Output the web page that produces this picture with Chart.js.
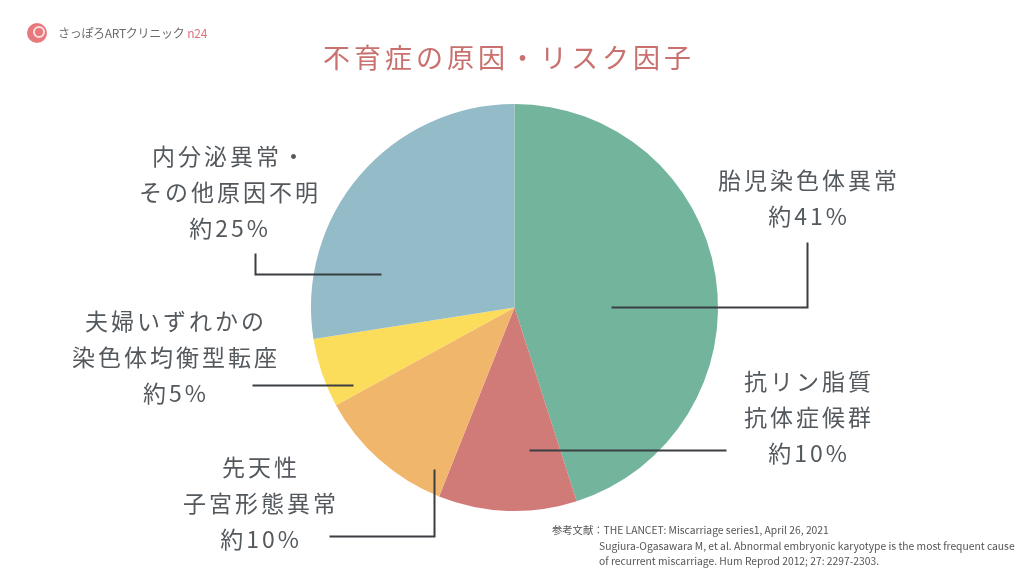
<!DOCTYPE html>
<html>
<head>
<meta charset="utf-8">
<script src="https://cdn.jsdelivr.net/npm/chart.js@4"></script>
<style>
  html, body { margin: 0; padding: 0; background: #fff; }
  #wrap { width: 1024px; height: 576px; position: relative; }
</style>
</head>
<body>
<div id="wrap"><canvas id="myChart" width="1024" height="576"></canvas></div>
<script>
// data
var labels = [
    ["胎児染色体異常", "約41%"],
    ["抗リン脂質", "抗体症候群", "約10%"],
    ["先天性", "子宮形態異常", "約10%"],
    ["夫婦いずれかの", "染色体均衡型転座", "約5%"],
    ["内分泌異常・", "その他原因不明", "約25%"]
];
var values = [41, 10, 10, 5, 25];
var colors = ["#73b49c", "#d17b79", "#f0b66b", "#fcdc5b", "#93bbc8"];

var titleText = "不育症の原因・リスク因子";
var refLines = [
    "参考文献：THE LANCET: Miscarriage series1, April 26, 2021",
    "Sugiura-Ogasawara M, et al. Abnormal embryonic karyotype is the most frequent cause",
    "of recurrent miscarriage. Hum Reprod 2012; 27: 2297-2303."
];

// label layout, offsets from pie center (px)
// text: center x / first line y ; path: leader polyline
var labelLayout = [
    { tx: 293, ty: -127, path: [[97, 0], [293, 0], [293, -65]] },
    { tx: 293, ty: 74, path: [[15, 143], [212, 143]] },
    { tx: -255, ty: 160, path: [[-185, 229], [-80, 229], [-80, 162]] },
    { tx: -340, ty: 14, path: [[-262, 78], [-161, 78]] },
    { tx: -286, ty: -151, path: [[-259, -54], [-259, -33], [-133, -33]] }
];

var fontJP = '"Noto Sans CJK JP", "Noto Sans", sans-serif';

const overlay = {
    id: "overlay",
    afterDraw(chart) {
        const ctx = chart.ctx;
        const arc = chart.getDatasetMeta(0).data[0];
        const cx = arc.x, cy = arc.y;
        ctx.save();

        // leader lines
        ctx.strokeStyle = "#3b3f43";
        ctx.lineWidth = 2;
        labelLayout.forEach((l) => {
            ctx.beginPath();
            l.path.forEach((p, i) => {
                if (i == 0) ctx.moveTo(cx + p[0], cy + p[1]);
                else ctx.lineTo(cx + p[0], cy + p[1]);
            });
            ctx.stroke();
        });

        // labels
        ctx.fillStyle = "#54595e";
        ctx.textAlign = "center";
        ctx.textBaseline = "middle";
        ctx.font = "400 23px " + fontJP;
        ctx.letterSpacing = "3px";
        labelLayout.forEach((l, i) => {
            labels[i].forEach((t, j) => {
                ctx.fillText(t, cx + l.tx + 1.5, cy + l.ty + j * 36);
            });
        });

        // title
        ctx.fillStyle = "#c9716f";
        ctx.font = "400 27px " + fontJP;
        ctx.letterSpacing = "4px";
        ctx.fillText(titleText, 509, 58);

        // logo
        ctx.letterSpacing = "0px";
        ctx.beginPath();
        ctx.arc(37, 33, 10, 0, Math.PI * 2);
        ctx.fillStyle = "#e8787c";
        ctx.fill();
        ctx.beginPath();
        ctx.arc(39, 32, 5, 0, Math.PI * 2);
        ctx.strokeStyle = "#fbe0e0";
        ctx.lineWidth = 2;
        ctx.stroke();
        ctx.textAlign = "left";
        ctx.fillStyle = "#6a6a6a";
        ctx.font = "400 12px " + fontJP;
        ctx.letterSpacing = "-0.3px";
        ctx.fillText("さっぽろARTクリニック", 58, 33);
        const w = ctx.measureText("さっぽろARTクリニック").width;
        ctx.fillStyle = "#e0727a";
        ctx.fillText("n24", 58 + w + 3, 33);

        // references
        ctx.letterSpacing = "0px";
        ctx.fillStyle = "#555";
        ctx.font = "400 10.3px " + fontJP;
        ctx.fillText(refLines[0], 552, 530);
        ctx.fillText(refLines[1], 599, 546);
        ctx.fillText(refLines[2], 599, 561);

        ctx.restore();
    }
};

const config = {
    type: "pie",
    data: {
        labels: labels.map((l) => l.join(" ")),
        datasets: [
            {
                data: values,
                backgroundColor: colors,
                borderWidth: 0,
            },
        ],
    },
    options: {
        responsive: false,
        animation: false,
        layout: {
            padding: { left: 5, right: 0, top: 104, bottom: 65 },
        },
        plugins: {
            legend: { display: false },
            tooltip: { enabled: false },
        },
    },
    plugins: [overlay],
};

var myChart = new Chart(document.getElementById("myChart"), config);
</script>
</body>
</html>
